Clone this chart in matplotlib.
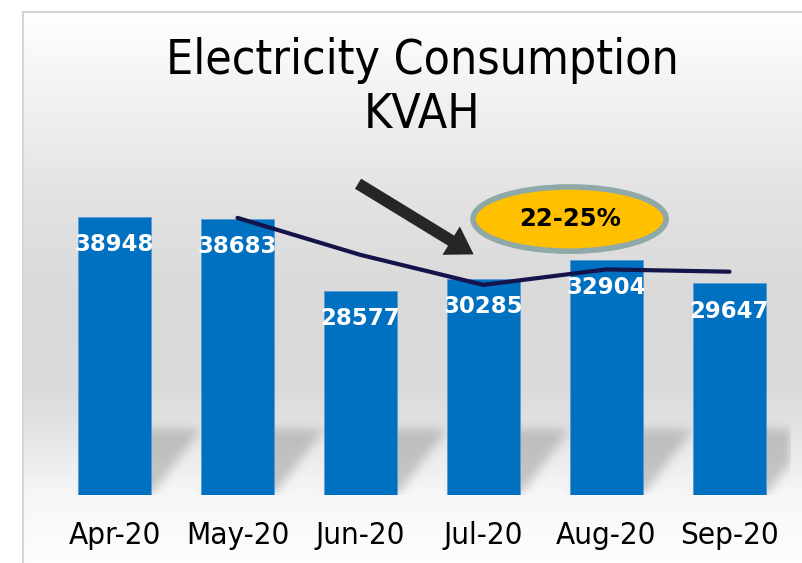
import numpy as np
import matplotlib
matplotlib.use("Agg")
import matplotlib.pyplot as plt
from matplotlib.patches import Ellipse, Rectangle
from matplotlib.colors import LinearSegmentedColormap


MONTHS = ["Apr-20", "May-20", "Jun-20", "Jul-20", "Aug-20", "Sep-20"]
KVAH = [38948, 38683, 28577, 30285, 32904, 29647]
# 2-period moving average trend (starts at May)
TREND_MONTHS = ["May-20", "Jun-20", "Jul-20", "Aug-20", "Sep-20"]
TREND = [38815, 33630, 29431, 31594, 31275]

BAR_W = 0.59
YMAX = 55000

fig = plt.figure(figsize=(8.03, 5.63), dpi=100)

# framed gradient background (frame runs off the right and bottom edges)
bg = fig.add_axes([23 / 803, 0, 1.0, 1 - 12 / 563])
bg.set_axis_off()
# stops given as pixel rows from the top of the frame
stops = [(0, "#ffffff"), (90, "#f1f1f1"), (190, "#e2e2e2"), (290, "#d9d9d9"),
         (380, "#dbdbdb"), (420, "#e4e4e4"), (483, "#f7f7f7"), (551, "#fdfdfd")]
grad = LinearSegmentedColormap.from_list("bg", [(p / 551, c) for p, c in stops])
g = np.linspace(0, 1, 512).reshape(-1, 1)
bg.imshow(g, aspect="auto", cmap=grad, origin="upper", extent=[0, 1, 0, 1])
bg.add_patch(Rectangle((0, -0.1), 1.2, 1.1, transform=bg.transAxes, fill=False,
                       edgecolor="#d4d4d4", lw=1.5, clip_on=False))

ax = fig.add_axes([53 / 803, 68 / 563, 738 / 803, 392.7 / 563])
ax.patch.set_alpha(0)

x = np.arange(len(MONTHS))

# soft skewed shadows behind the bars, built as a blurred alpha image
W, H = 738, 393
px = np.arange(W)[None, :]
py = np.arange(H)[:, None]
shadow_h, skew = 66, 0.76
A = np.zeros((H, W))
for xi in x:
    c = (xi + 0.5) * W / 6
    hw = BAR_W / 2 * W / 6
    inside = (py < shadow_h) & (px >= c - hw + py * skew) & (px <= c + hw + py * skew)
    A = np.maximum(A, inside * 1.0)


def box_blur(a, k):
    kern = np.ones(k) / k
    a = np.apply_along_axis(lambda r: np.convolve(r, kern, mode="same"), 1, a)
    a = np.apply_along_axis(lambda r: np.convolve(r, kern, mode="same"), 0, a)
    return a


A = box_blur(box_blur(A, 13), 9)
rgba = np.zeros((H, W, 4))
rgba[..., :3] = 0.62
rgba[..., 3] = A * 0.55
ax.imshow(rgba, origin="lower", extent=(-0.5, 5.5, 0, YMAX * H / 392.7),
          aspect="auto", zorder=1, interpolation="bilinear")

ax.bar(x, KVAH, width=BAR_W, color="#0070C0", edgecolor="#5B9BD5",
       linewidth=0.6, zorder=2)

for xi, v in zip(x, KVAH):
    ax.text(xi, v - 3900, str(v), ha="center", va="center", color="white",
            fontsize=16.5, fontweight="bold", zorder=4)

tx = [MONTHS.index(m) for m in TREND_MONTHS]
ax.plot(tx, TREND, color="#14134A", lw=3, solid_capstyle="round",
        solid_joinstyle="round", zorder=3)

ax.annotate("", xy=(2.92, 33700), xytext=(1.98, 43600),
            arrowprops=dict(arrowstyle="simple,head_width=2.4,head_length=1.9,tail_width=0.85",
                            color="#262626", lw=0, shrinkA=0, shrinkB=0), zorder=5)

ax.add_patch(Ellipse((3.70, 38650), 1.57, 9000, facecolor="#FFC000",
                     edgecolor="#8FA8A8", lw=4, zorder=5))
ax.text(3.70, 38650, "22-25%", ha="center", va="center", fontsize=17.5,
        fontweight="bold", color="black", zorder=6)

ax.set_xlim(-0.5, 5.5)
ax.set_ylim(0, YMAX)
ax.set_xticks(x)
ax.set_xticklabels(MONTHS, fontsize=22.5, fontstretch="condensed")
ax.tick_params(axis="x", length=0, pad=19)
ax.set_yticks([])
for s in ax.spines.values():
    s.set_visible(False)

fig.text(422 / 803, 1 - 60 / 563, "Electricity Consumption", ha="center",
         va="center", fontsize=34.5, fontstretch="condensed")
fig.text(422 / 803, 1 - 115 / 563, "KVAH", ha="center", va="center",
         fontsize=34.5, fontstretch="condensed")

fig.savefig("out.png", dpi=100)
